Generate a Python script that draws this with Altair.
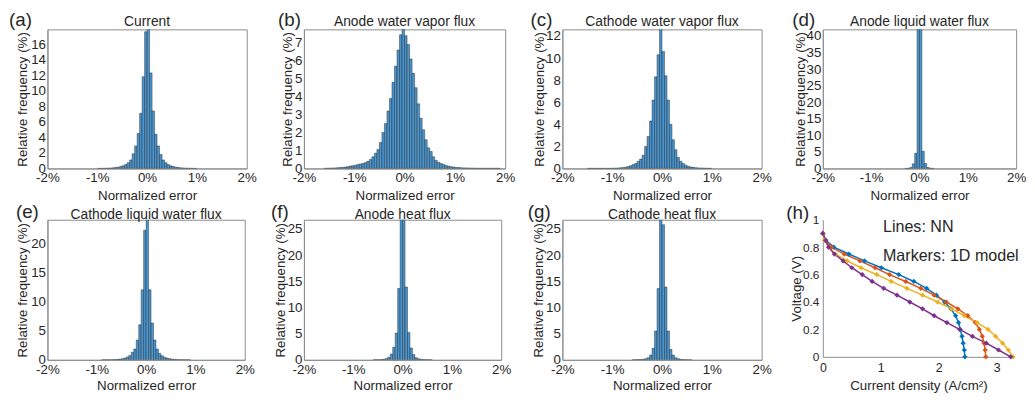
import altair as alt
import pandas as pd

FONT = "Liberation Sans"
TXT = "#262626"
AXC = "#8c8c8c"
FILL = "#4a96d0"
EDGE = "#1c1c1c"
BIN = 0.05

# ---------------- data ----------------
x_ticks = [-2, -1, 0, 1, 2]

# each histogram: left edge of first 0.05 % bin, then relative frequency (%) of consecutive bins
current_start = -1.0
current_freq = [0.01, 0.01, 0.02, 0.03, 0.04, 0.06, 0.08, 0.12, 0.17, 0.25,
                0.35, 0.5, 0.75, 1.1, 1.9, 2.9, 4.5, 7.1, 11.8, 17.6,
                18.3, 12.3, 7.4, 4.4, 2.9, 1.8, 1.1, 0.75, 0.5, 0.35,
                0.25, 0.17, 0.12, 0.08, 0.06, 0.04, 0.03, 0.02, 0.01, 0.01]
current_yticks = [0, 2, 4, 6, 8, 10, 12, 14, 16]

anode_vap_start = -1.6
anode_vap_freq = [0.01, 0.01, 0.02, 0.02, 0.03, 0.04, 0.05, 0.06, 0.08, 0.1, 0.13, 0.15, 0.18, 0.22,
                  0.25, 0.28, 0.33, 0.4, 0.5, 0.65, 0.85, 1.05, 1.45, 2.0, 2.5, 3.2, 3.9, 4.8, 5.7, 6.6, 7.45, 7.75,
                  7.4, 6.9, 6.1, 5.3, 4.5, 3.6, 2.8, 2.15, 1.6, 1.15, 0.95, 0.65, 0.45, 0.35, 0.28, 0.22, 0.17, 0.13,
                  0.1, 0.08, 0.06, 0.05, 0.04, 0.03, 0.03, 0.02, 0.02, 0.02,
                  0.01, 0.01, 0.01, 0.01, 0.01, 0.01, 0.01, 0.01, 0.01, 0.01]
anode_vap_yticks = [0, 1, 2, 3, 4, 5, 6, 7]

cath_vap_start = -1.5
cath_vap_freq = [0.01, 0.01, 0.01, 0.01, 0.01, 0.01, 0.01, 0.01, 0.01, 0.01,
                 0.02, 0.03, 0.04, 0.06, 0.08, 0.12, 0.18, 0.25, 0.35, 0.45,
                 0.65, 0.85, 1.2, 2.0, 2.9, 4.3, 6.2, 8.3, 10.3, 12.9,
                 10.6, 8.4, 6.2, 4.0, 2.6, 1.7, 1.0, 0.65, 0.45, 0.3,
                 0.2, 0.13, 0.1, 0.07, 0.05, 0.04, 0.03, 0.02, 0.01, 0.01]
cath_vap_yticks = [0, 2, 4, 6, 8, 10, 12]

anode_liq_start = -0.3
anode_liq_freq = [0.02, 0.05, 0.3, 1.4, 4.6, 43, 43, 5.2, 1.5, 0.3, 0.08, 0.02]
anode_liq_yticks = [0, 5, 10, 15, 20, 25, 30, 35, 40]

cath_liq_start = -0.9
cath_liq_freq = [0.01, 0.01, 0.02, 0.02, 0.03, 0.05, 0.08, 0.12, 0.2, 0.3,
                 0.5, 0.75, 1.3, 1.85, 3.4, 6.0, 12.0, 22.2,
                 24.8, 12.0, 6.3, 3.4, 1.85, 1.1, 0.7, 0.45, 0.3, 0.2,
                 0.12, 0.08, 0.05, 0.03, 0.02, 0.02, 0.01, 0.01]
cath_liq_yticks = [0, 5, 10, 15, 20]

anode_heat_start = -0.6
anode_heat_freq = [0.01, 0.02, 0.03, 0.06, 0.12, 0.25, 0.5, 1.1, 2.4, 5.1, 13.6, 27.5,
                   27.5, 13.9, 5.2, 2.25, 1.0, 0.4, 0.2, 0.1, 0.05, 0.03, 0.02, 0.01]
heat_yticks = [0, 5, 10, 15, 20, 25]

cath_heat_start = -0.6
cath_heat_freq = [0.01, 0.02, 0.04, 0.06, 0.1, 0.2, 0.4, 0.9, 2.2, 5.5, 13.6, 27.5,
                  25.8, 13.9, 5.5, 2.0, 0.9, 0.4, 0.2, 0.1, 0.05, 0.03, 0.02, 0.01]

# polarization curves (h)
voltage = [0.9, 0.85, 0.8, 0.75, 0.7, 0.65, 0.6, 0.55, 0.5, 0.45,
           0.4, 0.35, 0.3, 0.25, 0.2, 0.15, 0.1, 0.05, 0.0]
curve_blue = [0.0, 0.05, 0.19, 0.45, 0.72, 1.01, 1.31, 1.57, 1.79, 1.96,
              2.1, 2.21, 2.29, 2.34, 2.37, 2.4, 2.42, 2.44, 2.45]
curve_orange = [0.0, 0.04, 0.15, 0.37, 0.64, 0.9, 1.15, 1.43, 1.69, 1.92,
                2.13, 2.33, 2.5, 2.63, 2.7, 2.75, 2.78, 2.8, 2.81]
curve_yellow = [0.0, 0.03, 0.1, 0.22, 0.42, 0.66, 0.93, 1.18, 1.45, 1.72,
                1.98, 2.22, 2.44, 2.66, 2.85, 2.98, 3.1, 3.2, 3.28]
curve_purple = [0.0, 0.05, 0.1, 0.2, 0.35, 0.5, 0.68, 0.85, 1.05, 1.28,
                1.5, 1.72, 1.92, 2.14, 2.36, 2.58, 2.82, 3.03, 3.24]
curve_names = ["c1", "c2", "c3", "c4"]
curve_colors = ["#0072BD", "#D95319", "#EDB120", "#7E2F8E"]
h_xticks = [0, 1, 2, 3]
h_yticks = [0, 0.2, 0.4, 0.6, 0.8, 1]


# ---------------- helpers ----------------
def text_layer(txt, x, y, size, align="left"):
    return alt.Chart(pd.DataFrame({"k": [0]})).mark_text(
        text=txt, font=FONT, fontSize=size, color=TXT, align=align, baseline="alphabetic"
    ).encode(x=alt.value(x), y=alt.value(y))


def hist_panel(letter, title, start, freq, ymax, yticks, w, h,
               letter_dx, letter_dy, title_dy, ytitle_dx, xtitle_dy):
    df = pd.DataFrame({"lo": [round(start + i * BIN, 4) for i in range(len(freq))],
                       "f": freq})
    df["hi"] = df["lo"] + BIN
    df["base"] = 0.0
    bars = alt.Chart(df).mark_rect(
        clip=True, fill=FILL, stroke=EDGE, strokeWidth=0.5, strokeOpacity=0.85
    ).encode(
        x=alt.X("lo:Q", scale=alt.Scale(domain=[-2, 2], nice=False, zero=False),
                axis=alt.Axis(values=x_ticks, labelExpr="datum.value + '%'",
                              title="Normalized error", labelFlush=False, labelPadding=2.5,
                              titleX=w / 2, titleY=xtitle_dy, titleBaseline="alphabetic",
                              titleAlign="center")),
        x2=alt.X2("hi"),
        y=alt.Y("f:Q", scale=alt.Scale(domain=[0, ymax], nice=False, zero=True),
                axis=alt.Axis(values=yticks, title="Relative frequency (%)", labelPadding=2,
                              titleX=ytitle_dx, titleY=h / 2, titleBaseline="middle",
                              titleAlign="center", titleAngle=-90)),
        y2=alt.Y2("base"),
    )
    return alt.layer(
        bars,
        text_layer(letter, letter_dx, letter_dy, 19),
        text_layer(title, w / 2, title_dy, 14, "center"),
    ).properties(width=w, height=h)


def spacer(w, h):
    return alt.Chart(pd.DataFrame({"k": [0]})).mark_point(opacity=0).encode(
        x=alt.value(0), y=alt.value(0)
    ).properties(width=w, height=h, view=alt.ViewBackground(strokeOpacity=0))


H1 = 141
H2 = 142

pa = hist_panel("(a)", "Current", current_start, current_freq, 17.9, current_yticks,
                202, H1, -39, -3.5, -3.5, -25.3, 31)
pb = hist_panel("(b)", "Anode water vapor flux", anode_vap_start, anode_vap_freq, 7.75,
                anode_vap_yticks, 204, H1, -26.3, -3.5, -3.5, -16.3, 31)
pc = hist_panel("(c)", "Cathode water vapor flux", cath_vap_start, cath_vap_freq, 12.6,
                cath_vap_yticks, 202, H1, -32.3, -3.5, -3.5, -22.8, 31)
pd_ = hist_panel("(d)", "Anode liquid water flux", anode_liq_start, anode_liq_freq, 42,
                 anode_liq_yticks, 196, H1, -31, -3.5, -3.5, -23, 31)
pe = hist_panel("(e)", "Cathode liquid water flux", cath_liq_start, cath_liq_freq, 24,
                cath_liq_yticks, 200, H2, -32, -1.5, -1, -25.3, 30)
pf = hist_panel("(f)", "Anode heat flux", anode_heat_start, anode_heat_freq, 26.75,
                heat_yticks, 200, H2, -33.3, -1.5, -1, -24, 30)
pg = hist_panel("(g)", "Cathode heat flux", cath_heat_start, cath_heat_freq, 26.75,
                heat_yticks, 202, H2, -35, -1.5, -1, -24, 30)

# panel (h)
rows = []
for name, cur in zip(curve_names, [curve_blue, curve_orange, curve_yellow, curve_purple]):
    for k, (i_val, v_val) in enumerate(zip(cur, voltage)):
        rows.append({"s": name, "k": k, "I": i_val, "V": v_val})
hdf = pd.DataFrame(rows)
HW, HH = 194, 139
hbase = alt.Chart(hdf).encode(
    x=alt.X("I:Q", scale=alt.Scale(domain=[0, 3.3], nice=False, zero=False),
            axis=alt.Axis(values=h_xticks, title="Current density (A/cm²)", labelFlush=False,
                          labelPadding=5, labelFontSize=12.5, titleX=HW / 2, titleY=33,
                          titleBaseline="alphabetic", titleAlign="center")),
    y=alt.Y("V:Q", scale=alt.Scale(domain=[0, 1], nice=False),
            axis=alt.Axis(values=h_yticks, format="~g", title="Voltage (V)", labelPadding=4,
                          labelFontSize=12, titleX=-27, titleY=HH / 2,
                          titleBaseline="middle", titleAlign="center", titleAngle=-90)),
    color=alt.Color("s:N", scale=alt.Scale(domain=curve_names, range=curve_colors), legend=None),
)
hlines = hbase.mark_line(strokeWidth=1.5).encode(order=alt.Order("k:Q"))
hpts = hbase.mark_point(shape="diamond", filled=True, size=28, opacity=1)
ph = alt.layer(
    hlines, hpts,
    text_layer("(h)", -37, -1, 19),
    text_layer("Lines: NN", 61, 12, 16.3),
    text_layer("Markers: 1D model", 61, 42, 16.3),
).properties(width=HW, height=HH, view=alt.ViewBackground(strokeOpacity=0))

chart = alt.concat(
    pa, spacer(54, H1), pb, spacer(57, H1), pc, spacer(55, H1), pd_,
    pe, spacer(58, H2), pf, spacer(58, H2), pg, spacer(62, H2), ph,
    columns=7, spacing={"row": 52, "column": 0}, bounds="flush", align="none",
).properties(
    padding=0, background="white"
).configure_view(
    stroke=AXC, strokeWidth=1
).configure_axis(
    labelFont=FONT, titleFont=FONT, labelFontSize=13.5, titleFontSize=13.5,
    labelColor=TXT, titleColor=TXT, titleFontWeight="normal", grid=False,
    ticks=False, domainColor=AXC, domainWidth=1,
)

chart.save("out.html", embed_options={"renderer": "svg", "actions": False})
